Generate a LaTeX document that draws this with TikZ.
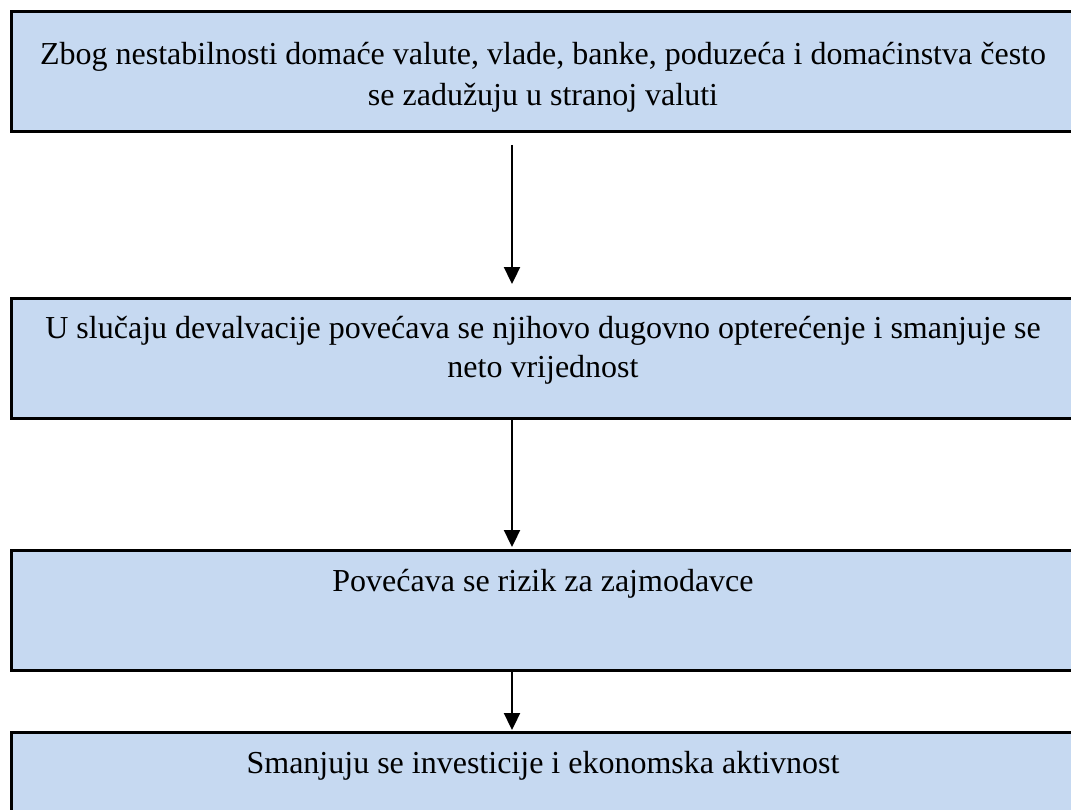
\documentclass[tikz,border=0pt]{standalone}
\usepackage{fontspec}
\setmainfont{Liberation Serif}
\usetikzlibrary{arrows.meta,calc}
\definecolor{boxfill}{RGB}{198,217,241}
\tikzset{
  flowbox/.style={draw=black, line width=2.8pt, fill=boxfill, rectangle, anchor=north west, minimum width=1066pt, minimum height=120pt, inner sep=0pt},
  lbl/.style={anchor=base, inner sep=0pt, font=\fontsize{32}{38}\selectfont},
  arr/.style={line width=2.3pt, -{Triangle[width=16pt,length=17pt]}}
}
\begin{document}
\begin{tikzpicture}[x=1pt,y=-1pt]
\useasboundingbox (0,0) rectangle (1071,809);
\clip (0,0) rectangle (1071,809);
\node[flowbox] (b1) at (10,10) {};
\node[flowbox] (b2) at (10,297) {};
\node[flowbox] (b3) at (10,549) {};
\node[flowbox] (b4) at (10,731) {};
\node[lbl] (t1a) at (543,64) {Zbog nestabilnosti domaće valute, vlade, banke, poduzeća i domaćinstva često};
\node[lbl] (t1b) at (543,105) {se zadužuju u stranoj valuti};
\node[lbl] (t2a) at (543,338) {U slučaju devalvacije povećava se njihovo dugovno opterećenje i smanjuje se};
\node[lbl] (t2b) at (543,377) {neto vrijednost};
\node[lbl] (t3) at (543,591) {Povećava se rizik za zajmodavce};
\node[lbl] (t4) at (543,773) {Smanjuju se investicije i ekonomska aktivnost};
\coordinate (ax) at (512,0);
\draw[arr] ($(b1.south -| ax)+(0,12)$) -- ($(b2.north -| ax)+(0,-13)$);
\draw[arr] (b2.south -| ax) -- ($(b3.north -| ax)+(0,-2)$);
\draw[arr] (b3.south -| ax) -- ($(b4.north -| ax)+(0,-1)$);
\end{tikzpicture}
\end{document}
